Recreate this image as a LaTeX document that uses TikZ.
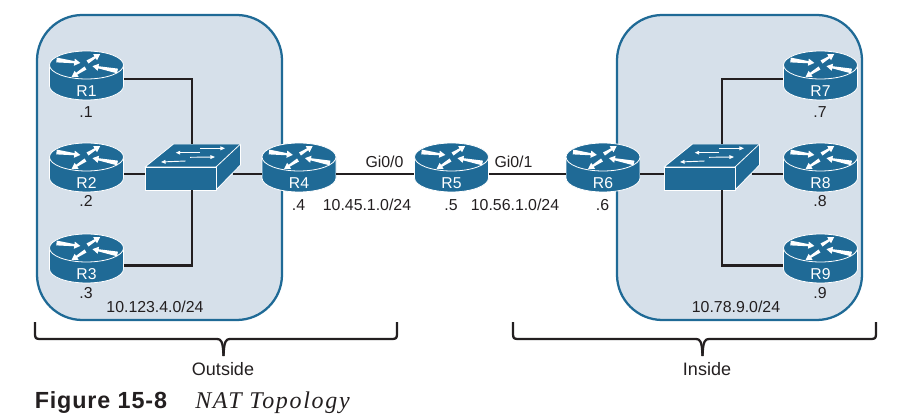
\documentclass[tikz,border=0pt]{standalone}
\usepackage{fontspec}
\setmainfont{Liberation Sans}
\newfontfamily\capserif{Liberation Serif}
\usetikzlibrary{arrows.meta}
\definecolor{ciscoblue}{HTML}{1F6A96}
\definecolor{panelfill}{HTML}{D6E0EA}
\definecolor{ink}{HTML}{231F20}
\tikzset{
  panel/.style={draw=ciscoblue,fill=panelfill,line width=1.7pt,rounded corners=34pt},
  devbody/.style={fill=ciscoblue,draw=white,line width=0.6pt,line join=round},
  sarrow/.style={draw=white,line width=0.7pt,-{Triangle[width=2.8pt,length=3.4pt]}},
  wire/.style={draw=ink,line width=1.9pt},
  brace/.style={draw=ink,line width=1.7pt,line join=round},
  lbl/.style={font=\fontsize{11.9pt}{13pt}\selectfont,text=ink,inner sep=0pt},
  biglbl/.style={font=\fontsize{13.5pt}{15pt}\selectfont,text=ink,inner sep=0pt},
  rlbl/.style={font=\fontsize{11.8pt}{13pt}\selectfont,text=white,inner sep=0pt},
  anchorbox/.style={inner sep=0pt,minimum width=55.5pt,minimum height=20pt},
}
% tail x, tail y, canvas angle, length, tail half width
\newcommand{\taperarrow}[5]{%
  \fill[white,shift={(#1,#2)},rotate=#3] (0,-#5) -- (#4-6,-1.1) -- (#4-6,-3.6) -- (#4,0) -- (#4-6,3.6) -- (#4-6,1.1) -- (0,#5) -- cycle;
}
% name, cx, top y, wire y, label, address y, address
\newcommand{\routerdev}[7]{%
  \begin{scope}[shift={(#2,#3+14)}]
    \path[devbody] (-37,0) -- (-37,21) arc[start angle=180,end angle=360,x radius=27.75pt,y radius=10.5pt] -- (37,0) -- cycle;
    \path[devbody] (0,0) ellipse [x radius=27.75pt,y radius=10.5pt];
    \taperarrow{-30}{-5}{-7}{24}{2.4}
    \taperarrow{1}{-3}{32}{15}{1.8}
    \taperarrow{31}{6}{169}{25.5}{2.4}
    \taperarrow{-1}{3}{-147}{16.6}{1.8}
  \end{scope}
  \node[anchorbox] (#1) at (#2,#4) {};
  \node[rlbl] (#1-name) at (#2,#3+40) {#5};
  \node[lbl] (#1-addr) at (#2-0.5,#6) {#7};
}
% name, front-left x, vertical wire x
\newcommand{\switchdev}[3]{%
  \begin{scope}[shift={(#2,167)}]
    \path[devbody] (0,0) -- (28.5,-23) -- (95.5,-23) -- (95.5,-2) -- (71,23) -- (71,0) -- cycle;
    \path[devbody] (0,0) rectangle (71,23);
    \draw[devbody] (71,0) -- (95.5,-23);
    \draw[sarrow] (55,-18.7) -- (80,-18.7);
    \draw[sarrow] (55,-14.3) -- (30.7,-14.3);
    \draw[sarrow] (45,-9.7) -- (70,-10);
    \draw[sarrow] (40.7,-6) -- (16,-5);
    \coordinate (#1w) at (0,7);
    \coordinate (#1e) at (88,7);
  \end{scope}
  \coordinate (#1n) at (#3,144);
  \coordinate (#1s) at (#3,190);
}
\begin{document}
\begin{tikzpicture}[x=0.75pt,y=-0.75pt]
\useasboundingbox (0,0) rectangle (910,420);
\path[panel] (37,15) rectangle (282,320);
\path[panel] (617,15) rectangle (862,320);

\routerdev{R1}{86.5}{51}{79}{R1}{112}{.1}
\routerdev{R2}{86.5}{143}{174}{R2}{201}{.2}
\routerdev{R3}{86.5}{234}{265.7}{R3}{293}{.3}
\routerdev{R4}{299}{143}{174}{R4}{205}{.4}
\routerdev{R5}{451.5}{143}{174}{R5}{205}{.5}
\routerdev{R6}{603}{143}{174}{R6}{205}{.6}
\routerdev{R7}{820.5}{51}{79}{R7}{112}{.7}
\routerdev{R8}{820.5}{143}{174}{R8}{201}{.8}
\routerdev{R9}{820.5}{234}{265.7}{R9}{293}{.9}
\switchdev{swa}{145}{192}
\switchdev{swb}{664}{722}

\draw[wire] (R1.east) -| (swan);
\draw[wire] (R2.east) -- (swaw);
\draw[wire] (R3.east) -| (swas);
\draw[wire] (swae) -- (R4.west);
\draw[wire] (R4.east) -- (R5.west);
\draw[wire] (R5.east) -- (R6.west);
\draw[wire] (R6.east) -- (swbw);
\draw[wire] (R7.west) -| (swbn);
\draw[wire] (R8.west) -- (swbe);
\draw[wire] (R9.west) -| (swbs);

\node[lbl] (gi0) at (384.5,162) {Gi0/0};
\node[lbl] (gi1) at (513.5,162) {Gi0/1};
\node[lbl] (n45) at (367,205) {10.45.1.0/24};
\node[lbl] (n56) at (515,205) {10.56.1.0/24};
\node[lbl] (n123) at (155,307) {10.123.4.0/24};
\node[lbl] (n78) at (736,307) {10.78.9.0/24};

\draw[brace] (35,322) -- (35,334) .. controls (35,338) and (36,339) .. (40,339) -- (217,339) .. controls (221,339) and (223,341) .. (223.5,356);
\draw[brace] (223.5,356) .. controls (224,341) and (226,339) .. (230,339) -- (392,339) .. controls (396,339) and (397,338) .. (397,334) -- (397,322);
\draw[brace] (513,322) -- (513,334) .. controls (513,338) and (514,339) .. (518,339) -- (696,339) .. controls (700,339) and (702,341) .. (702.5,356);
\draw[brace] (702.5,356) .. controls (703,341) and (705,339) .. (709,339) -- (871,339) .. controls (875,339) and (876,338) .. (876,334) -- (876,322);

\node[biglbl] (outside) at (223,369) {Outside};
\node[biglbl] (inside) at (707,369) {Inside};

\node[anchor=base west,inner sep=0pt,text=ink,font=\fontsize{17.5pt}{19pt}\selectfont\bfseries\addfontfeature{LetterSpace=3.7}] (figno) at (34.5,408) {Figure 15-8};
\node[anchor=base west,inner sep=0pt,text=ink,font=\fontsize{18pt}{20pt}\selectfont\capserif\itshape\addfontfeature{LetterSpace=7}] (figtitle) at (195,408) {NAT Topology};
\end{tikzpicture}
\end{document}
